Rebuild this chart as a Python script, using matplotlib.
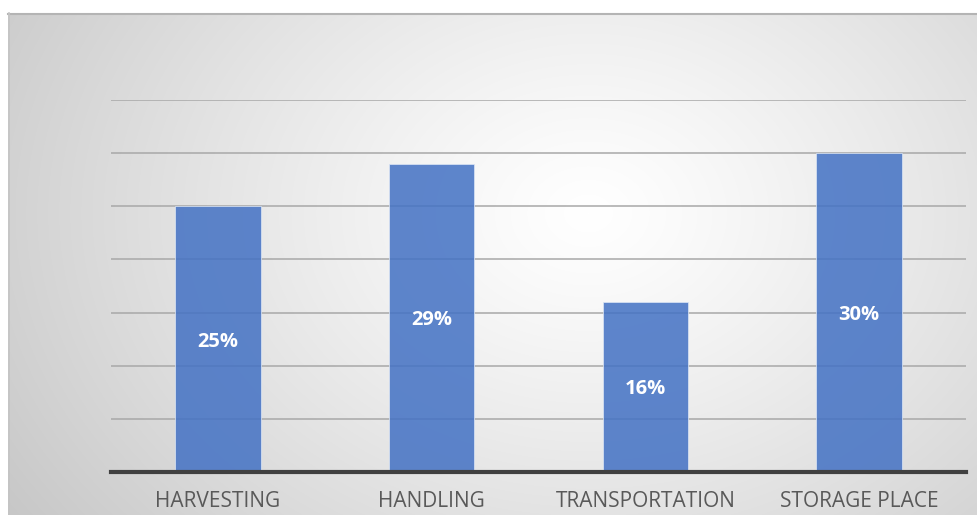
import matplotlib.pyplot as plt
import numpy as np

# ---- data ----
categories = ["HARVESTING", "HANDLING", "TRANSPORTATION", "STORAGE PLACE"]
shares = [25, 29, 16, 30]
labels = ["25%", "29%", "16%", "30%"]

W, H = 977, 515
fig = plt.figure(figsize=(W / 100, H / 100), dpi=100, facecolor="white")

# ---- chart area background: radial gradient, white centre, grey corners ----
bg = fig.add_axes([8 / W, 0, 1 - 8 / W, 1 - 13 / H], zorder=0)
yy, xx = np.mgrid[0:H - 13, 0:W - 8]
cx, cy = 580, 200
r = np.hypot((xx - cx) / 1.3, (yy - cy)) / 560
r = np.clip(r, 0, 1)
grey = 1 - 0.23 * r ** 1.2
grey = np.clip(grey, 0, 1)
bg.imshow(np.dstack([grey, grey, grey]), aspect="auto", interpolation="bilinear")
bg.set_axis_off()
fig.add_artist(plt.Line2D([8 / W, 1], [1 - 13.5 / H] * 2, color="#b4b4b4", lw=1.5))
fig.add_artist(plt.Line2D([8.5 / W] * 2, [0, 1 - 13 / H], color="#c4c4c4", lw=1.2))

# ---- plot area ----
ax = fig.add_axes([111 / W, (H - 472) / H, (966 - 111) / W, (472 - 100) / H], zorder=1)
ax.patch.set_alpha(0)
x = np.arange(len(categories))
bars = ax.bar(x, shares, width=0.4, color="#4472C4", alpha=0.86,
              edgecolor="#dce6f5", linewidth=0.6, zorder=3)
ax.set_xlim(-0.5, len(categories) - 0.5)
ax.set_ylim(0, 35)
ax.set_yticks(np.arange(5, 36, 5))
ax.yaxis.grid(True, color="#a8a8a8", lw=1.1, zorder=1)
ax.tick_params(axis="y", length=0, labelleft=False)
ax.tick_params(axis="x", length=0, pad=14, labelsize=15, labelcolor="#595959")
ax.set_xticks(x)
ax.set_xticklabels(categories, fontfamily="Open Sans")
for s in ("top", "right", "left"):
    ax.spines[s].set_visible(False)
ax.spines["bottom"].set_color("#404040")
ax.spines["bottom"].set_linewidth(3)
ax.spines["bottom"].set_zorder(4)

for xi, v, lab in zip(x, shares, labels):
    ax.text(xi, v / 2, lab, ha="center", va="center_baseline", color="white",
            fontsize=14.5, fontweight="bold", fontfamily="Open Sans", zorder=5)

fig.savefig("out.png", dpi=100)
